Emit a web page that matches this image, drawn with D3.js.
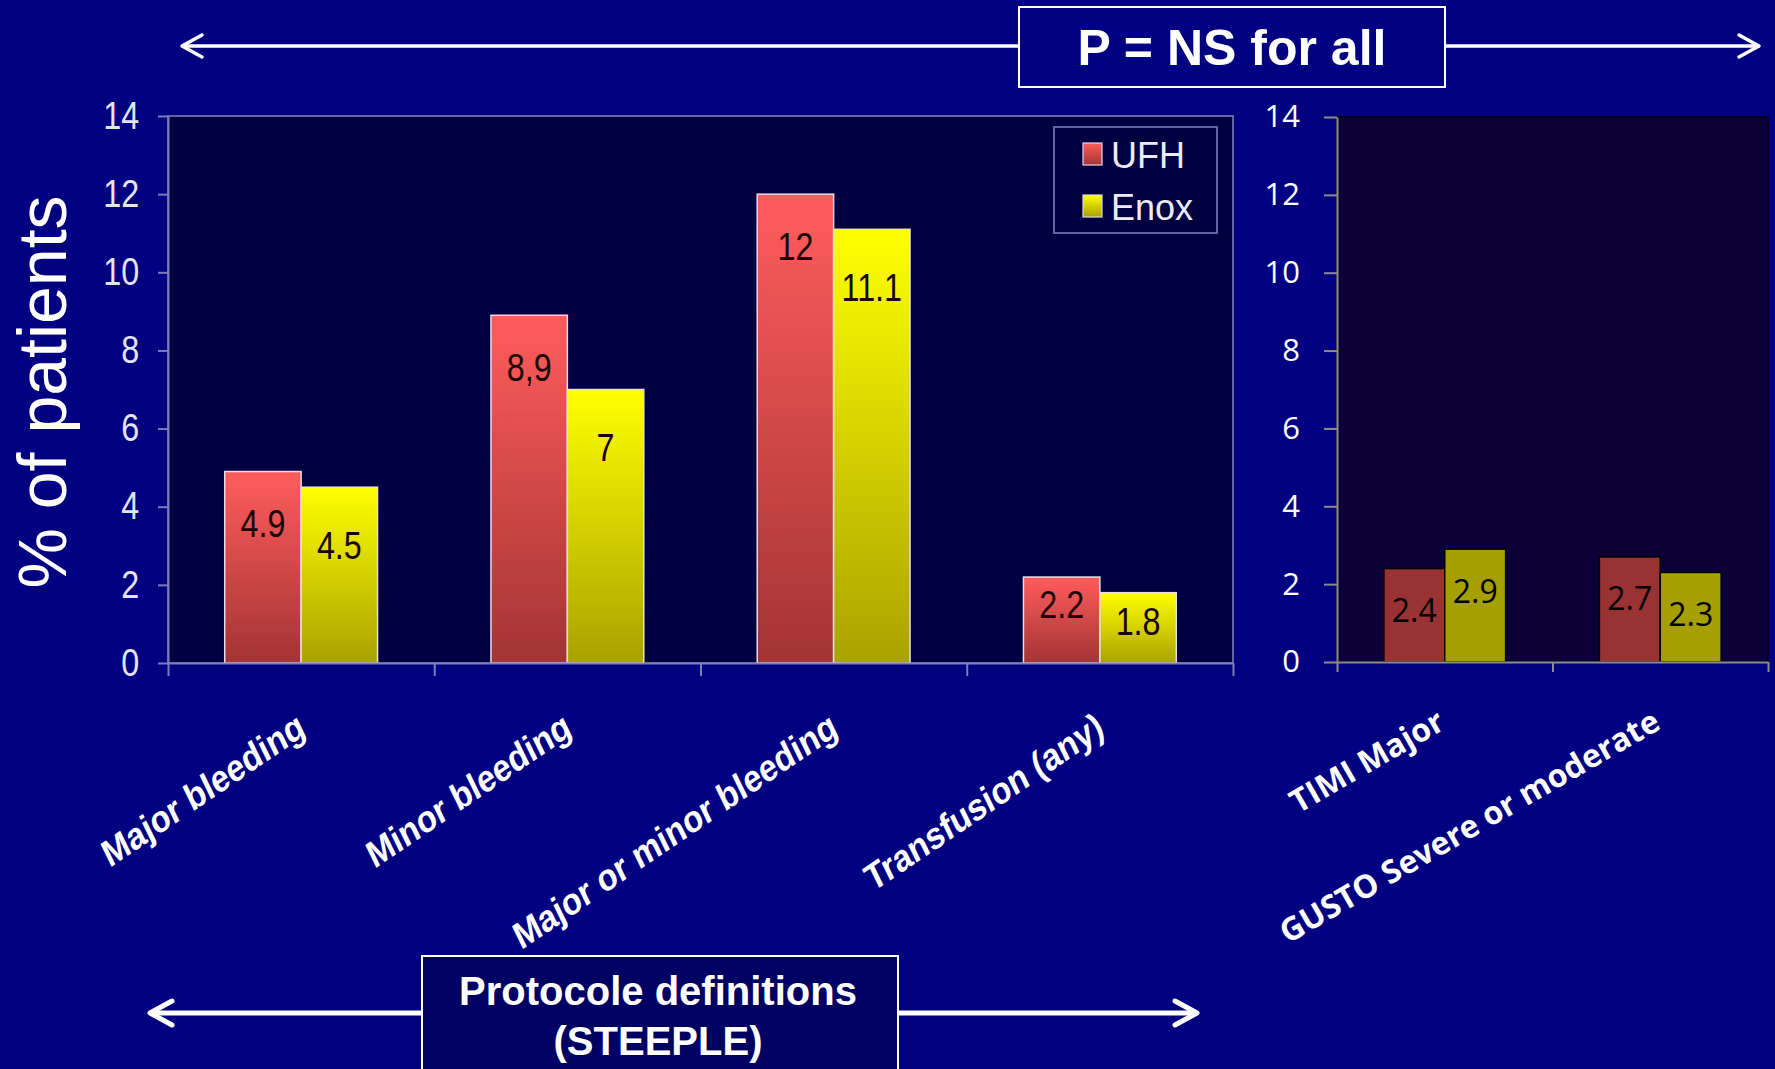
<!DOCTYPE html>
<html>
<head>
<meta charset="utf-8">
<script src="https://cdn.jsdelivr.net/npm/d3@7"></script>
<style>
  html, body { margin: 0; padding: 0; background: #000080; }
  svg { display: block; }
</style>
</head>
<body>
<svg id="chart" width="1775" height="1069"></svg>
<script>
// ---- data ----
const seriesNames = ["UFH", "Enox"];
const protocolCategories = ["Major bleeding", "Minor bleeding", "Major or minor bleeding", "Transfusion (any)"];
const protocolUFH = [4.9, 8.9, 12, 2.2];
const protocolEnox = [4.5, 7, 11.1, 1.8];
const protocolUFHLabels = ["4.9", "8,9", "12", "2.2"];
const protocolEnoxLabels = ["4.5", "7", "11.1", "1.8"];
const otherCategories = ["TIMI Major", "GUSTO Severe or moderate"];
const otherUFH = [2.4, 2.7];
const otherEnox = [2.9, 2.3];
const yTicks = [0, 2, 4, 6, 8, 10, 12, 14];

// ---- setup ----
const W = 1775, H = 1069;
const svg = d3.select("#chart");
svg.append("rect").attr("width", W).attr("height", H).attr("fill", "#000080");

const defs = svg.append("defs");
function vGrad(id, top, bottom) {
  const g = defs.append("linearGradient").attr("id", id)
    .attr("x1", 0).attr("y1", 0).attr("x2", 0).attr("y2", 1);
  g.append("stop").attr("offset", "0%").attr("stop-color", top);
  g.append("stop").attr("offset", "100%").attr("stop-color", bottom);
}
vGrad("gradUFH", "#ff5c5c", "#a33434");
vGrad("gradEnox", "#ffff00", "#a9a200");

const SANS = "'Liberation Sans', Arial, sans-serif";
const SOFT = "'Open Sans', 'Noto Sans', sans-serif";
const SQ = 0.85; // horizontal squeeze of the protocol panel's text
const frameCol = "#7c7cb8";

// ---- protocol-definition panel (left) ----
const L = { x0: 168, x1: 1233, y0: 116, y1: 663 };
const yL = d3.scaleLinear().domain([0, 14]).range([L.y1, L.y0]);
const xL = d3.scaleBand().domain(protocolCategories).range([L.x0, L.x1])
  .paddingInner(0.426).paddingOuter(0.213);
const sL = d3.scaleBand().domain(seriesNames).range([0, xL.bandwidth()]);

const gL = svg.append("g");
gL.append("rect")
  .attr("x", L.x0).attr("y", L.y0).attr("width", L.x1 - L.x0).attr("height", L.y1 - L.y0)
  .attr("fill", "#000040").attr("stroke", frameCol).attr("stroke-width", 1.6);

const leftRows = protocolCategories.map((c, i) => ({
  cat: c,
  vals: [
    { s: "UFH", v: protocolUFH[i], label: protocolUFHLabels[i] },
    { s: "Enox", v: protocolEnox[i], label: protocolEnoxLabels[i] }
  ]
}));

const lGroups = gL.selectAll("g.cat").data(leftRows).join("g")
  .attr("class", "cat")
  .attr("transform", d => `translate(${xL(d.cat)},0)`);

lGroups.selectAll("rect").data(d => d.vals).join("rect")
  .attr("x", d => sL(d.s))
  .attr("y", d => yL(d.v))
  .attr("width", sL.bandwidth())
  .attr("height", d => yL(0) - yL(d.v))
  .attr("fill", d => d.s === "UFH" ? "url(#gradUFH)" : "url(#gradEnox)")
  .attr("stroke", "#e8dcea").attr("stroke-width", 1.5);

// value labels sit a little below each bar's top
lGroups.selectAll("text").data(d => d.vals).join("text")
  .attr("transform", d => {
    const top = yL(d.v), h = yL(0) - top;
    const y = top + Math.min(h * 0.32, 52) + (d.s === "Enox" ? 6 : 0);
    return `translate(${sL(d.s) + sL.bandwidth() / 2},${y}) scale(${SQ},1)`;
  })
  .attr("text-anchor", "middle").attr("dominant-baseline", "central")
  .attr("font-family", SANS).attr("font-size", 38).attr("fill", "#1a0505")
  .text(d => d.label);

// y axis
const axL = gL.append("g").attr("transform", `translate(${L.x0},0)`)
  .call(d3.axisLeft(yL).tickValues(yTicks).tickSizeInner(10).tickSizeOuter(0).tickPadding(24));
axL.select(".domain").attr("stroke", frameCol).attr("stroke-width", 2);
axL.selectAll(".tick line").attr("stroke", frameCol).attr("stroke-width", 2);
axL.selectAll(".tick text")
  .attr("font-family", SANS).attr("font-size", 38).attr("fill", "#e4e4f2")
  .attr("transform", `scale(${SQ},1)`);

// x axis with boundary ticks
const bL = d3.scaleLinear().domain([0, protocolCategories.length]).range([L.x0, L.x1]);
const axLB = gL.append("g").attr("transform", `translate(0,${L.y1})`)
  .call(d3.axisBottom(bL).tickValues(d3.range(protocolCategories.length + 1))
    .tickFormat("").tickSizeInner(13).tickSizeOuter(0));
axLB.select(".domain").attr("stroke", frameCol).attr("stroke-width", 2);
axLB.selectAll(".tick line").attr("stroke", frameCol).attr("stroke-width", 2);

// category labels
gL.selectAll("text.catlab").data(protocolCategories).join("text")
  .attr("class", "catlab")
  .attr("transform", d => `translate(${xL(d) + xL.bandwidth() / 2 + 6},${L.y1 + 71}) scale(${SQ},1) rotate(-30)`)
  .attr("text-anchor", "end")
  .attr("font-family", SANS).attr("font-weight", "bold").attr("font-size", 38)
  .attr("fill", "#ffffff")
  .text(d => d);

// legend
const leg = gL.append("g");
leg.append("rect").attr("x", 1054).attr("y", 127).attr("width", 163).attr("height", 106)
  .attr("fill", "#000040").attr("stroke", frameCol).attr("stroke-width", 1.6);
const legItems = leg.selectAll("g.item").data(seriesNames).join("g")
  .attr("class", "item")
  .attr("transform", (d, i) => `translate(1083,${143 + i * 52})`);
legItems.append("rect").attr("width", 19).attr("height", 22)
  .attr("fill", d => d === "UFH" ? "url(#gradUFH)" : "url(#gradEnox)")
  .attr("stroke", "#e0d8e8").attr("stroke-width", 1.2);
legItems.append("text").attr("x", 28).attr("y", 25)
  .attr("font-family", SANS).attr("font-size", 36).attr("fill", "#ececf6")
  .text(d => d);

// ---- other definitions panel (right) ----
const R = { x0: 1337, x1: 1768, y0: 117, y1: 662 };
const yR = d3.scaleLinear().domain([0, 14]).range([R.y1, R.y0]);
const xR = d3.scaleBand().domain(otherCategories).range([R.x0, R.x1])
  .paddingInner(0.435).paddingOuter(0.2175);
const sR = d3.scaleBand().domain(seriesNames).range([0, xR.bandwidth()]);

const gR = svg.append("g");
gR.append("rect")
  .attr("x", R.x0).attr("y", R.y0).attr("width", R.x1 - R.x0).attr("height", R.y1 - R.y0)
  .attr("fill", "#0b0037").attr("stroke", "#000010").attr("stroke-width", 1.5);

const rightRows = otherCategories.map((c, i) => ({
  cat: c,
  vals: [{ s: "UFH", v: otherUFH[i] }, { s: "Enox", v: otherEnox[i] }]
}));
const rGroups = gR.selectAll("g.cat").data(rightRows).join("g")
  .attr("class", "cat")
  .attr("transform", d => `translate(${xR(d.cat)},0)`);
rGroups.selectAll("rect").data(d => d.vals).join("rect")
  .attr("x", d => sR(d.s))
  .attr("y", d => yR(d.v))
  .attr("width", sR.bandwidth())
  .attr("height", d => yR(0) - yR(d.v))
  .attr("fill", d => d.s === "UFH" ? "#993333" : "#a69f00")
  .attr("stroke", "#000000").attr("stroke-width", 1.5);
rGroups.selectAll("text").data(d => d.vals).join("text")
  .attr("x", d => sR(d.s) + sR.bandwidth() / 2)
  .attr("y", d => yR(d.v) + 41)
  .attr("text-anchor", "middle").attr("dominant-baseline", "central")
  .attr("font-family", SOFT).attr("font-size", 32).attr("fill", "#000000")
  .text(d => d.v);

const axR = gR.append("g").attr("transform", `translate(${R.x0},0)`)
  .call(d3.axisLeft(yR).tickValues(yTicks).tickSizeInner(13).tickSizeOuter(0).tickPadding(24));
axR.select(".domain").attr("stroke", "#8c8c8c").attr("stroke-width", 2);
axR.selectAll(".tick line").attr("stroke", "#8c8c8c").attr("stroke-width", 2);
axR.selectAll(".tick text").attr("font-family", SOFT).attr("font-size", 31).attr("fill", "#ffffff");

const bR = d3.scaleLinear().domain([0, otherCategories.length]).range([R.x0, R.x1]);
const axRB = gR.append("g").attr("transform", `translate(0,${R.y1})`)
  .call(d3.axisBottom(bR).tickValues(d3.range(otherCategories.length + 1))
    .tickFormat("").tickSizeInner(10).tickSizeOuter(0));
axRB.select(".domain").attr("stroke", "#8c8c8c").attr("stroke-width", 2);
axRB.selectAll(".tick line").attr("stroke", "#8c8c8c").attr("stroke-width", 2);

gR.selectAll("text.catlab").data(otherCategories).join("text")
  .attr("class", "catlab")
  .attr("transform", d => `translate(${xR(d) + xR.bandwidth() / 2 + 2},${R.y1 + 66}) rotate(-30)`)
  .attr("text-anchor", "end")
  .attr("font-family", SOFT).attr("font-weight", "bold").attr("font-size", 32)
  .attr("fill", "#ffffff")
  .text(d => d);

// ---- y title ----
svg.append("text")
  .attr("transform", "translate(66,392) rotate(-90)")
  .attr("text-anchor", "middle")
  .attr("font-family", SANS).attr("font-size", 68).attr("fill", "#ffffff")
  .text("% of patients");

// ---- double arrows with captions ----
function doubleArrow(x0, x1, y, w, back, half) {
  const g = svg.append("g").attr("stroke", "#ffffff").attr("stroke-width", w)
    .attr("fill", "none").attr("stroke-linecap", "round").attr("stroke-linejoin", "round");
  g.append("line").attr("x1", x0 + 1).attr("x2", x1 - 1).attr("y1", y).attr("y2", y);
  g.append("path").attr("d", `M${x0 + back},${y - half}L${x0},${y}L${x0 + back},${y + half}`);
  g.append("path").attr("d", `M${x1 - back},${y - half}L${x1},${y}L${x1 - back},${y + half}`);
}

doubleArrow(182, 1759, 46, 3.5, 20, 11);
svg.append("rect").attr("x", 1019).attr("y", 7).attr("width", 426).attr("height", 80)
  .attr("fill", "#000080").attr("stroke", "#ffffff").attr("stroke-width", 2);
svg.append("text").attr("x", 1232).attr("y", 65).attr("text-anchor", "middle")
  .attr("font-family", SANS).attr("font-weight", "bold").attr("font-size", 50).attr("fill", "#ffffff")
  .text("P = NS for all");

doubleArrow(150, 1197, 1013, 5, 22, 12);
svg.append("rect").attr("x", 422).attr("y", 956).attr("width", 476).attr("height", 130)
  .attr("fill", "#000062").attr("stroke", "#ffffff").attr("stroke-width", 2);
const capt = svg.append("text").attr("text-anchor", "middle")
  .attr("font-family", SANS).attr("font-weight", "bold").attr("font-size", 40).attr("fill", "#ffffff");
capt.append("tspan").attr("x", 658).attr("y", 1005).text("Protocole definitions");
capt.append("tspan").attr("x", 658).attr("y", 1055).text("(STEEPLE)");
</script>
</body>
</html>
